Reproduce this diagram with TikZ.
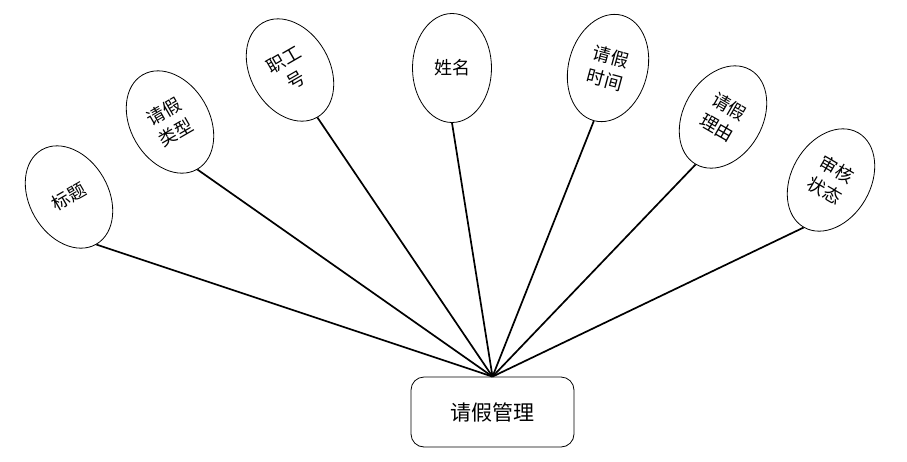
\documentclass[tikz,border=0pt]{standalone}
\usepackage{fontspec}
\newfontfamily\cjk{Noto Sans CJK SC}
\usetikzlibrary{shapes.geometric}
\begin{document}
\begin{tikzpicture}[x=1pt,y=-1pt,
  attr/.style={ellipse,draw,line width=0.8pt,minimum width=79pt,minimum height=109pt,inner sep=0pt,align=center,font=\cjk\fontsize{18}{24}\selectfont},
  link/.style={line width=1.7pt},
  entity/.style={draw,rounded corners=13pt,line width=0.8pt,minimum width=163pt,minimum height=70pt,inner sep=0pt,font=\cjk\fontsize{21}{25}\selectfont}]
\useasboundingbox (0,0) rectangle (907,461);
\node[entity] (box) at (492.5,412) {请假管理};
\node[attr,rotate=30] (e1) at (69,197) {标题};
\node[attr,rotate=30] (e2) at (170,122) {请假\\类型};
\node[attr,rotate=30] (e3) at (290,70) {职工\\号};
\node[attr] (e4) at (452,68) {姓名};
\node[attr,rotate=-15] (e5) at (608,68) {请假\\时间};
\node[attr,rotate=-30] (e6) at (723,117) {请假\\理由};
\node[attr,rotate=-30] (e7) at (831,180) {审核\\状态};
\foreach \e in {e1,e2,e3,e4,e5,e6,e7}
  \draw[link] (\e.south) -- (box.north);
\end{tikzpicture}
\end{document}
